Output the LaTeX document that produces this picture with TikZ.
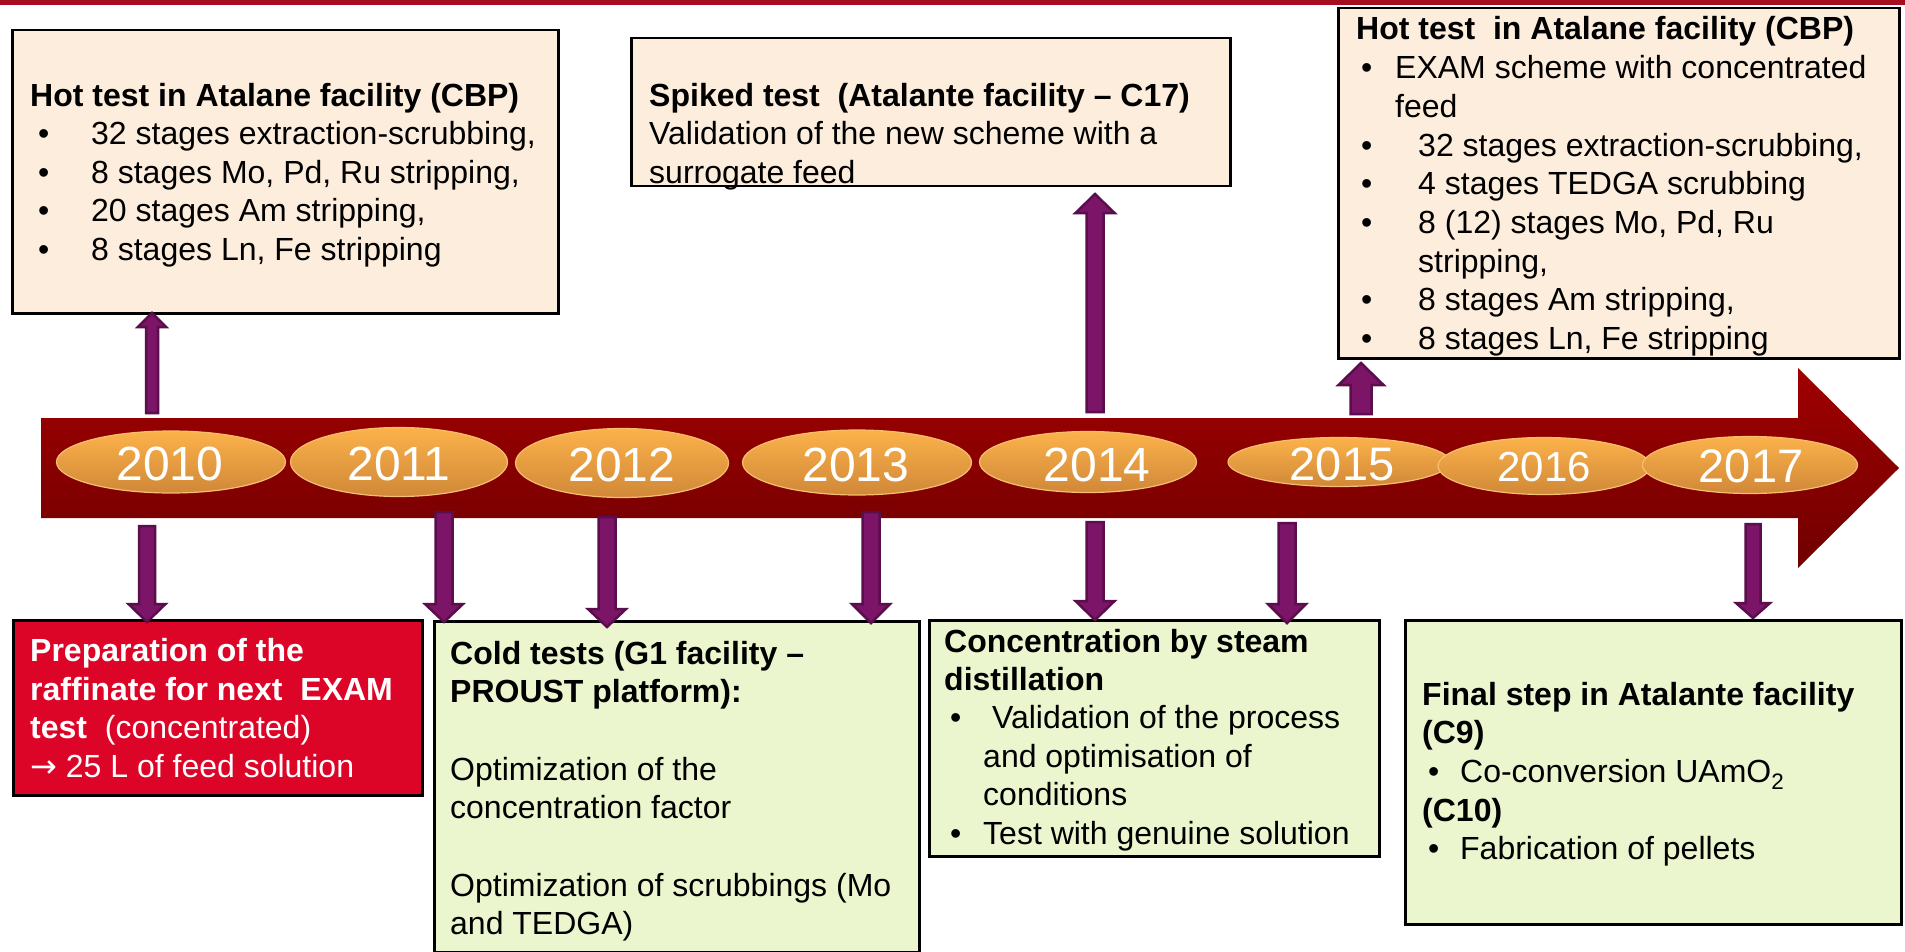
\documentclass[tikz,border=0pt]{standalone}
\usepackage{fontspec}
\setmainfont{Liberation Sans}
\newfontfamily\dejavu{DejaVu Sans}
\usetikzlibrary{shapes.geometric,calc}

\definecolor{topred}{RGB}{165,14,30}
\definecolor{peachc}{RGB}{253,237,220}
\definecolor{greenc}{RGB}{235,245,206}
\definecolor{redbox}{RGB}{221,5,39}
\definecolor{tltop}{RGB}{160,0,0}
\definecolor{tlbot}{RGB}{112,0,0}
\definecolor{ellt}{RGB}{252,178,74}
\definecolor{ellb}{RGB}{208,136,56}
\definecolor{elld}{RGB}{246,190,110}
\definecolor{arrf}{RGB}{124,20,104}
\definecolor{arrd}{RGB}{90,14,76}

\newcommand{\bul}[2]{\makebox[#2][l]{\hspace*{#1}•}}
% #1 start coord, #2 end coord, #3 half shaft, #4 half head, #5 head length
\newcommand{\blockarrow}[5]{%
  \coordinate (ba-h) at ($(#2)!#5!(#1)$);
  \draw[barrow] ($(#1)!#3!90:(#2)$) -- ($(ba-h)!#3!90:(#2)$) -- ($(ba-h)!#4!90:(#2)$) -- (#2)
    -- ($(ba-h)!#4!-90:(#2)$) -- ($(ba-h)!#3!-90:(#2)$) -- ($(#1)!#3!-90:(#2)$) -- cycle;}

\tikzset{
  txt/.style={anchor=base west, inner sep=0pt, font=\fontsize{32}{38.7}\selectfont},
  box/.style={draw=black, line width=2.5pt, anchor=north west, inner sep=0pt},
  barrow/.style={fill=arrf, draw=arrd, line width=2.5pt, line join=miter},
  yearell/.style={ellipse, draw=elld, line width=1.2pt, top color=ellt, bottom color=ellb, inner sep=0pt},
  yeartxt/.style={inner sep=0pt, text=white},
}

\begin{document}
\begin{tikzpicture}[x=1pt,y=-1pt]
\useasboundingbox (0,0) rectangle (1905,952);
\fill[white] (0,0) rectangle (1905,952);
\fill[topred] (0,0) rectangle (1905,5);

% timeline arrow
\path[top color=tltop, bottom color=tlbot] (41,418) -- (1798,418) -- (1798,368) -- (1899,468)
  -- (1798,568) -- (1798,518) -- (41,518) -- cycle;

% year ellipses
\node[yearell, minimum width=229pt, minimum height=62pt] (e2010) at (171,462) {};
\node[yeartxt, font=\fontsize{48}{50}\selectfont] (t2010) at (170,464) {2010};
\node[yearell, minimum width=217pt, minimum height=69pt] (e2011) at (399,462) {};
\node[yeartxt, font=\fontsize{48}{50}\selectfont] (t2011) at (399,464) {2011};
\node[yearell, minimum width=213pt, minimum height=69pt] (e2012) at (622,463) {};
\node[yeartxt, font=\fontsize{48}{50}\selectfont] (t2012) at (622,465) {2012};
\node[yearell, minimum width=229pt, minimum height=65pt] (e2013) at (857,462.5) {};
\node[yeartxt, font=\fontsize{48}{50}\selectfont] (t2013) at (856,464.5) {2013};
\node[yearell, minimum width=217pt, minimum height=61pt] (e2014) at (1088,462) {};
\node[yeartxt, font=\fontsize{48}{50}\selectfont] (t2014) at (1097,464.5) {2014};
\node[yearell, minimum width=222pt, minimum height=49pt] (e2015) at (1339,462) {};
\node[yeartxt, font=\fontsize{47}{50}\selectfont] (t2015) at (1342,464) {2015};
\node[yearell, minimum width=212pt, minimum height=57pt] (e2016) at (1544,466) {};
\node[yeartxt, font=\fontsize{42}{45}\selectfont] (t2016) at (1544,467) {2016};
\node[yearell, minimum width=215pt, minimum height=57pt] (e2017) at (1750,465) {};
\node[yeartxt, font=\fontsize{47}{50}\selectfont] (t2017) at (1751,466) {2017};

% boxes
\node[box, fill=peachc, minimum width=546pt, minimum height=283pt] (b1) at (11,29) {};
\node[box, fill=peachc, minimum width=599pt, minimum height=148pt] (b2) at (630,37) {};
\node[box, fill=peachc, minimum width=561pt, minimum height=350pt] (b3) at (1337,7) {};
\node[box, fill=redbox, minimum width=409pt, minimum height=175pt] (b4) at (12,619) {};
\node[box, fill=greenc, minimum width=485pt, minimum height=331pt] (b5) at (433,620) {};
\node[box, fill=greenc, minimum width=450pt, minimum height=236pt] (b6) at (928,619) {};
\node[box, fill=greenc, minimum width=496pt, minimum height=304pt] (b7) at (1404,619) {};

% texts
\node[txt, font=\fontsize{32}{38.4}\selectfont] (x1) at (30,106.5) {\begin{tabular}[t]{@{}l@{}}
\textbf{Hot test in Atalane facility (CBP)}\\
\bul{8pt}{61pt}32 stages extraction-scrubbing,\\
\bul{8pt}{61pt}8 stages Mo, Pd, Ru stripping,\\
\bul{8pt}{61pt}20 stages Am stripping,\\
\bul{8pt}{61pt}8 stages Ln, Fe stripping
\end{tabular}};

\node[txt, font=\fontsize{32}{38.4}\selectfont] (x2) at (649,106.5) {\begin{tabular}[t]{@{}l@{}}
\textbf{Spiked test\ \ (Atalante facility – C17)}\\
Validation of the new scheme with a\\
surrogate feed
\end{tabular}};

\node[txt] (x3) at (1356,40) {\begin{tabular}[t]{@{}l@{}}
\textbf{Hot test\ \ in Atalane facility (CBP)}\\
\bul{5pt}{39pt}EXAM scheme with concentrated\\
\hspace*{39pt}feed\\
\bul{5pt}{62pt}32 stages extraction-scrubbing,\\
\bul{5pt}{62pt}4 stages TEDGA scrubbing\\
\bul{5pt}{62pt}8 (12) stages Mo, Pd, Ru\\
\hspace*{62pt}stripping,\\
\bul{5pt}{62pt}8 stages Am stripping,\\
\bul{5pt}{62pt}8 stages Ln, Fe stripping
\end{tabular}};

\node[txt, text=white] (x4) at (30,661.5) {\begin{tabular}[t]{@{}l@{}}
\textbf{Preparation of the}\\
\textbf{raffinate for next\ \ EXAM}\\
\textbf{test}\ \ (concentrated)\\
{\dejavu →} 25 L of feed solution
\end{tabular}};

\node[txt] (x5) at (450,664) {\begin{tabular}[t]{@{}l@{}}
\textbf{Cold tests (G1 facility –}\\
\textbf{PROUST platform):}\\
\\
Optimization of the\\
concentration factor\\
\\
Optimization of scrubbings (Mo\\
and TEDGA)
\end{tabular}};

\node[txt, font=\fontsize{32}{38.4}\selectfont] (x6) at (944,652) {\begin{tabular}[t]{@{}l@{}}
\textbf{Concentration by steam}\\
\textbf{distillation}\\
\bul{6pt}{39pt}\ Validation of the process\\
\hspace*{39pt}and optimisation of\\
\hspace*{39pt}conditions\\
\bul{6pt}{39pt}Test with genuine solution
\end{tabular}};

\node[txt] (x7) at (1422,705) {\begin{tabular}[t]{@{}l@{}}
\textbf{Final step in Atalante facility}\\
\textbf{(C9)}\\
\bul{6pt}{38pt}Co-conversion UAmO\textsubscript{2}\\
\textbf{(C10)}\\
\bul{6pt}{38pt}Fabrication of pellets
\end{tabular}};

% arrow end points
\coordinate (u1a) at (152,413);  \coordinate (u1b) at (152,313);
\coordinate (u2a) at (1095,412); \coordinate (u2b) at (1095,194);
\coordinate (u3a) at (1361,414); \coordinate (u3b) at (1361,363);
\coordinate (d1a) at (147,526);  \coordinate (d1b) at (147,622);
\coordinate (d2a) at (444,512);  \coordinate (d2b) at (444,622);
\coordinate (d3a) at (607,517);  \coordinate (d3b) at (607,627);
\coordinate (d4a) at (871,512);  \coordinate (d4b) at (871,623);
\coordinate (d5a) at (1095,522); \coordinate (d5b) at (1095,620);
\coordinate (d6a) at (1287,523); \coordinate (d6b) at (1287,623);
\coordinate (d7a) at (1753,524); \coordinate (d7b) at (1753,618);

\blockarrow{u1a}{u1b}{6pt}{14pt}{14pt}
\blockarrow{u2a}{u2b}{8.5pt}{19.5pt}{19pt}
\blockarrow{u3a}{u3b}{10.5pt}{22.5pt}{22pt}
\blockarrow{d1a}{d1b}{8pt}{18.5pt}{18pt}
\blockarrow{d2a}{d2b}{8.5pt}{19pt}{18pt}
\blockarrow{d3a}{d3b}{8.5pt}{19pt}{18pt}
\blockarrow{d4a}{d4b}{8.5pt}{19pt}{19pt}
\blockarrow{d5a}{d5b}{8.5pt}{19.5pt}{19pt}
\blockarrow{d6a}{d6b}{8.5pt}{19pt}{19pt}
\blockarrow{d7a}{d7b}{7.5pt}{17pt}{15pt}
\end{tikzpicture}
\end{document}
